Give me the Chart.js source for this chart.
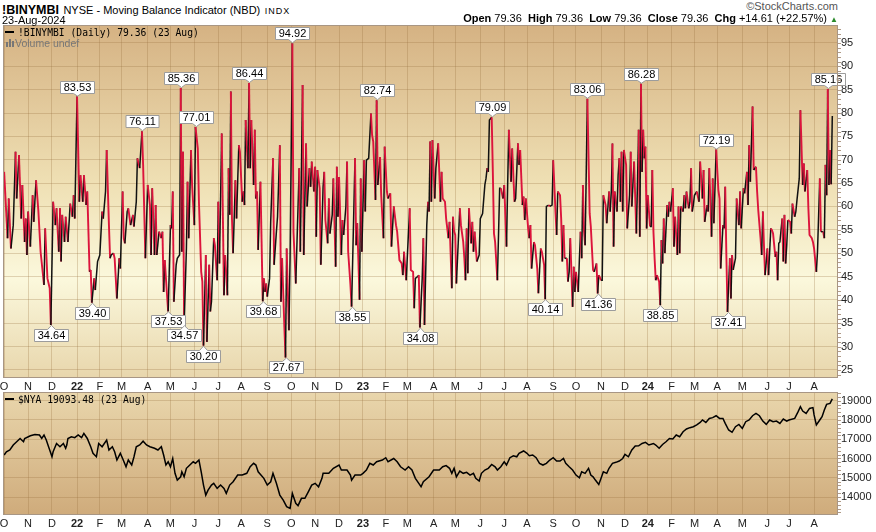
<!DOCTYPE html>
<html>
<head>
<meta charset="utf-8">
<script src="https://cdn.jsdelivr.net/npm/chart.js@4.4.1/dist/chart.umd.min.js"></script>
<style>
  body { margin: 0; width: 876px; height: 532px; background: #fff; position: relative; overflow: hidden;
         font-family: "Liberation Sans", Arial, sans-serif; color: #000; }
  .t { position: absolute; white-space: pre; line-height: 1; }
  .mono { font-family: "DejaVu Sans Mono", monospace; font-size: 9.7px; }
  canvas { position: absolute; left: 0; }
  .dash { display: inline-block; width: 9px; height: 2px; background: #000; vertical-align: middle; margin-right: 4px; position: relative; top: -1px; }
  .bar { display: inline-block; width: 2px; background: #777; margin-right: 1px; vertical-align: baseline; }
</style>
</head>
<body>
<canvas id="main" width="876" height="367" style="top:25px"></canvas>
<canvas id="nya" width="876" height="140" style="top:392px"></canvas>

<div class="t" style="left:2px;top:1px"><b style="font-size:12.5px">!BINYMBI</b> <span style="font-size:11px">NYSE - Moving Balance Indicator (NBD)</span> <span style="font-size:9px;letter-spacing:1px">INDX</span></div>
<div class="t" style="left:2px;top:15px;font-size:11px">23-Aug-2024</div>
<div class="t" style="right:38px;top:1px;font-size:11px;color:#555">&copy;StockCharts.com</div>
<div class="t" style="right:38px;top:13px;font-size:11px"><b>Open</b> 79.36  <b>High</b> 79.36  <b>Low</b> 79.36  <b>Close</b> 79.36  <b>Chg</b> +14.61 (+22.57%) <span style="color:#2a8a2a;font-size:8px">&#9650;</span></div>

<div class="t mono" style="left:5px;top:28px"><span class="dash"></span>!BINYMBI (Daily) 79.36 (23 Aug)</div>
<div class="t" style="left:6px;top:38px;font-size:10.5px;color:#777"><span class="bar" style="height:5px"></span><span class="bar" style="height:8px"></span><span class="bar" style="height:6px"></span>Volume undef</div>
<div class="t mono" style="left:5px;top:395px"><span class="dash"></span>$NYA 19093.48 (23 Aug)</div>

<script>
// trading-day index (0 = 1 Oct 2021) and Moving Balance Indicator readings
const mbiDays = [0,3,4,6,8,10,11,13,15,16,18,19,20,21,23,25,26,28,30,32,35,36,38,40,41,43,45,46,48,49,50,51,53,54,56,58,60,61,62,64,
  66,67,69,70,72,73,75,76,77,79,80,82,84,86,87,89,90,92,93,94,96,97,99,101,102,104,105,106,108,109,111,113,114,116,117,119,121,122,124,126,
  128,129,130,132,133,134,136,138,139,140,141,143,144,146,147,148,149,151,152,154,155,156,157,158,160,161,162,164,165,167,168,170,171,173,174,175,177,178,180,181,
  182,184,185,187,188,189,191,193,194,196,197,198,199,200,201,203,204,206,207,209,210,211,212,214,215,216,217,219,220,221,222,223,224,225,227,228,229,230,231,233,
  234,236,237,239,240,242,243,244,246,247,248,250,251,253,254,256,257,259,260,262,263,265,266,268,269,270,272,273,274,275,277,278,280,281,282,284,285,286,288,289,
  291,292,293,294,296,297,298,300,301,302,304,305,306,308,309,310,312,313,314,316,317,318,320,322,323,324,326,327,328,330,331,333,334,336,337,339,340,342,344,345,
  347,349,350,351,353,354,356,357,359,360,361,363,364,365,367,368,369,371,372,373,374,375,376,378,379,381,383,384,385,387,388,390,391,393,394,395,396,397,400,401,
  403,404,405,406,407,408,410,411,412,413,415,417,418,420,422,423,424,425,426,428,429,430,431,433,435,436,438,439,441,442,443,445,446,448,449,451,452,453,455,456,
  457,458,460,461,462,463,465,466,468,469,471,472,474,475,476,478,479,481,482,484,485,486,488,489,490,491,492,494,495,496,497,499,500,501,502,504,505,506,507,508,
  509,510,512,514,515,517,518,520,521,522,524,525,526,528,529,531,532,533,534,535,536,538,539,540,541,542,543,544,546,547,549,550,551,553,555,557,558,559,560,561,
  562,563,564,565,567,568,569,570,571,572,573,575,576,577,578,579,580,582,583,584,585,587,588,589,591,592,593,594,596,597,598,599,601,602,603,604,605,606,608,609,
  610,611,613,614,615,617,618,619,621,622,623,624,625,627,628,629,631,632,633,634,635,637,638,639,640,642,643,645,646,647,649,650,652,653,654,655,657,658,660,661,
  662,664,665,666,667,668,670,671,673,674,675,677,678,679,680,681,683,684,685,686,687,688,690,691,692,694,695,696,698,699,701,702,703,705,706,707,709,710,711,713,
  714,716,717,719,720,721,722,723,724,725,726,727];
const mbiValues = [67.4,53.2,61.7,51.0,56.0,71.7,61.7,71.0,57.4,64.6,52.4,57.4,49.6,58.9,51.4,62.4,56.7,65.6,59.2,50.3,43.2,55.3,44.6,42.5,34.64,61.0,56.0,59.6,50.3,59.6,48.2,58.2,52.4,57.8,52.4,60.6,57.8,62.4,57.4,83.53,
  61.0,66.7,61.0,66.7,60.3,63.2,46.0,46.4,39.40,44.6,42.1,48.2,49.6,58.9,57.4,63.2,72.1,56.0,48.9,49.6,50.0,48.9,40.3,48.9,46.7,63.2,53.2,52.1,58.9,59.6,56.0,58.2,55.7,61.0,70.3,68.2,76.11,68.9,48.9,64.6,
  60.3,49.6,63.9,49.6,60.3,49.6,54.6,53.2,54.6,41.7,48.5,41.0,37.53,56.0,55.3,63.2,39.6,47.5,48.9,49.6,85.36,50.3,71.7,34.57,51.0,65.3,53.2,72.1,64.6,56.0,77.01,72.4,61.0,46.0,43.9,30.20,49.6,31.0,47.5,37.5,
  39.6,53.2,51.7,44.2,61.0,47.8,75.6,41.0,49.6,41.0,68.2,58.2,84.6,57.4,50.0,65.6,57.4,73.1,71.7,61.0,63.2,60.3,78.5,68.2,86.44,68.2,78.5,64.6,76.4,61.7,63.2,50.7,58.5,65.3,39.68,44.6,41.7,43.5,40.7,44.6,
  56.7,70.3,47.5,54.6,57.8,73.1,39.6,48.9,34.2,27.67,51.0,33.5,48.9,94.92,54.6,43.5,51.7,68.2,50.3,86.0,49.6,73.5,60.0,68.2,64.2,69.6,63.2,68.5,53.5,67.8,63.9,47.5,64.2,67.4,57.1,52.1,61.7,54.2,58.2,66.0,
  47.1,68.5,57.8,66.3,49.6,57.1,53.9,60.0,69.6,50.3,43.2,38.55,48.9,70.3,51.7,56.4,40.0,66.0,50.3,69.9,58.9,69.9,70.3,79.9,75.3,73.9,61.4,82.74,64.6,70.6,62.4,53.2,72.8,63.2,61.7,62.8,51.4,60.0,56.0,54.6,
  48.5,47.8,45.3,50.3,44.2,49.6,59.6,46.4,46.0,38.2,44.6,45.0,45.3,34.08,44.6,53.2,34.6,56.0,61.0,58.9,73.9,61.0,74.2,61.7,68.2,73.5,61.0,67.4,61.7,61.0,57.4,53.2,56.7,42.5,57.8,54.6,53.9,43.5,59.6,56.0,
  52.4,48.9,44.2,55.3,45.7,59.6,52.1,56.7,50.3,54.6,48.2,49.6,57.4,58.5,64.6,66.0,68.2,67.4,78.5,79.09,67.4,54.2,52.4,44.2,63.9,63.9,61.7,64.6,51.4,64.6,76.4,65.3,72.4,61.0,61.7,73.5,68.9,72.1,60.3,62.1,
  57.1,61.7,55.3,53.2,56.0,46.7,52.4,51.7,46.7,41.4,51.0,50.3,47.5,40.14,60.0,60.3,60.0,60.3,69.9,58.9,53.9,63.2,62.4,57.4,48.2,56.0,48.9,48.9,43.9,46.0,53.2,38.5,47.1,41.7,46.0,41.7,48.9,54.6,48.9,64.6,
  54.9,51.7,83.06,58.5,55.7,46.4,46.0,47.8,41.36,45.3,44.2,44.2,62.4,60.3,56.4,63.2,58.9,63.2,73.5,51.4,63.2,58.9,66.7,70.3,61.0,71.7,58.9,72.1,68.9,55.3,62.4,71.7,60.0,69.6,54.2,76.4,53.5,86.28,67.4,76.4,
  70.3,72.8,55.3,62.4,55.7,55.7,67.8,54.6,48.9,44.2,45.3,43.9,38.85,52.8,47.8,57.4,50.0,60.3,57.8,61.0,58.9,63.9,51.4,57.8,49.6,60.0,50.0,60.0,58.9,62.4,59.6,63.2,59.6,61.0,68.2,58.9,60.3,62.4,63.2,62.1,
  61.0,69.6,61.7,67.8,56.7,60.3,58.9,68.2,53.5,66.0,56.4,63.9,72.19,63.5,61.7,46.7,56.0,55.3,64.2,49.6,37.41,48.9,40.3,49.6,46.4,48.9,61.7,56.0,63.2,55.3,63.9,62.8,67.4,60.3,73.1,65.3,81.4,67.8,68.5,63.2,
  59.2,53.2,49.6,58.9,51.7,45.3,51.0,45.3,55.3,54.9,54.2,49.2,50.3,44.2,52.1,52.4,57.4,48.2,58.2,47.8,51.7,57.1,56.7,54.2,60.6,57.8,58.9,61.4,66.0,80.6,64.6,69.2,63.2,67.8,59.6,53.9,53.2,52.4,51.0,46.0,
  50.3,66.0,54.6,54.6,53.2,68.9,62.4,85.16,64.6,72.1,64.75,79.36];

// NYSE Composite ($NYA) closes on the same day index
const nyaDays = [0,2,5,8,11,14,17,18,23,27,31,33,35,37,39,40,42,43,46,49,52,54,55,56,59,62,65,68,70,73,76,78,81,83,86,90,92,95,97,99,
  102,104,107,109,112,114,116,119,122,125,128,132,135,138,140,142,144,146,148,150,152,155,156,158,160,163,166,168,171,173,175,177,179,182,184,187,190,193,195,198,
  201,205,209,213,216,219,221,223,228,231,234,236,239,242,245,248,251,253,256,258,261,264,267,270,273,276,279,280,285,289,294,296,301,304,305,308,313,315,318,321,
  324,327,332,335,337,342,345,348,352,355,358,361,364,366,368,373,377,382,385,388,391,393,395,397,400,403,406,409,412,414,417,419,422,425,428,431,433,436,439,441,
  444,447,450,452,456,459,461,464,467,470,473,476,479,482,485,488,491,493,496,499,502,505,507,510,513,515,517,519,522,524,526,529,531,534,537,540,543,545,548,551,
  554,557,560,563,566,570,572,575,578,581,584,587,590,593,596,599,602,605,608,611,613,616,619,622,625,628,631,633,636,639,642,645,648,651,654,657,660,663,666,669,
  672,675,678,681,684,687,689,694,697,699,701,704,707,710,711,713,716,718,720,722,725,727];
const nyaValues = [16180,16350,16440,16700,16870,17040,16870,17040,17180,17250,17220,17040,17220,16960,16610,16440,16090,16350,16780,16610,16780,16530,16700,17040,17130,17080,17220,17080,17300,17040,16610,16270,16090,16780,16610,16960,16440,16610,16350,15920,
  16270,16000,15570,15920,15660,16090,16610,16700,16900,16700,16610,16530,16440,16610,16180,15660,15830,15570,16000,15230,14880,15050,15310,15050,15490,15660,15830,15750,15920,15310,14620,14100,14360,14620,14710,14450,14620,14450,14190,14620,
  14790,15140,15140,15230,15570,15750,15660,15310,14970,14620,14790,15230,14710,14100,13840,13500,13410,14190,13670,13550,13930,13930,14270,14620,14710,14530,14970,15230,15230,15490,15660,15400,15400,15140,14880,15140,15140,15230,15400,15750,
  15660,15830,15920,16040,15830,16000,15830,15570,15400,15570,15400,14970,14710,14530,14790,15050,15400,15400,15570,15630,15490,15230,15490,15050,15350,15230,15280,15140,15230,14970,14830,15230,15400,15490,15690,15570,15400,15570,15830,15660,
  16040,16140,16090,16270,16390,16270,16140,16180,16040,15750,15660,15750,15920,16040,15870,15870,16000,15750,15570,15400,15140,15000,15310,15230,15490,15140,15050,14880,14650,14970,15310,15230,15490,15750,15800,15870,16000,16210,16090,16440,
  16650,16660,16780,16840,16700,16780,16700,16530,16730,16870,17040,17010,17220,17130,17390,17530,17600,17650,17740,17870,18000,17870,18080,18120,18220,18080,18080,17820,17480,17360,17650,17770,17560,17910,18000,18220,18340,18220,17940,17770,
  18000,17910,17940,17820,18050,17940,18000,18080,18430,18690,18460,18340,18600,18640,18260,17740,18000,18170,18520,18810,18860,19093.48];

// month starts (trading-day index) and their axis labels
const monthStarts = [0,21,42,64,84,103,126,146,167,188,208,231,252,273,294,315,335,354,377,396,418,439,459,482,502,524,545,565,586,606,626,648,670,689,711];
const monthLabels = ['O','N','D','22','F','M','A','M','J','J','A','S','O','N','D','23','F','M','A','M','J','J','A','S','O','N','D','24','F','M','A','M','J','J','A'];

const mbiTicks = [25,30,35,40,45,50,55,60,65,70,75,80,85,90,95];
const nyaTicks = [14000,15000,16000,17000,18000,19000];

// values that carry a price label on the chart
const peakMarks = [83.53,76.11,85.36,77.01,86.44,94.92,82.74,79.09,83.06,86.28,72.19,85.16];
const troughMarks = [34.64,39.40,37.53,34.57,30.20,39.68,27.67,38.55,34.08,40.14,41.36,38.85,37.41];

const FONT = '"Liberation Sans", Arial, sans-serif';
const RED = '#dc143c';
const GRID = 'rgba(150,110,60,0.28)';

function panel(stops, minorStep) {
  return {
    id: 'panel',
    beforeDraw(chart) {
      const {ctx, chartArea: a} = chart;
      const g = ctx.createLinearGradient(0, a.top, 0, a.bottom);
      stops.forEach(s => g.addColorStop(s[0], s[1]));
      ctx.save();
      ctx.fillStyle = g;
      ctx.fillRect(a.left, a.top, a.right - a.left, a.bottom - a.top);
      ctx.restore();
    },
    afterDraw(chart) {
      const {ctx, chartArea: a} = chart;
      const ys = chart.scales.y;
      ctx.save();
      ctx.strokeStyle = '#a89684';
      ctx.lineWidth = 1;
      ctx.strokeRect(Math.round(a.left) + 0.5, Math.round(a.top) + 0.5, Math.round(a.right - a.left) - 1, Math.round(a.bottom - a.top) - 1);
      ctx.strokeStyle = '#b09a86';
      ctx.beginPath();
      for (let v = Math.ceil(ys.min / minorStep) * minorStep; v <= ys.max; v += minorStep) {
        const y = Math.round(ys.getPixelForValue(v)) + 0.5;
        ctx.moveTo(a.right, y);
        ctx.lineTo(a.right + 3, y);
      }
      ctx.stroke();
      ctx.restore();
    }
  };
}

const markLabels = {
  id: 'markLabels',
  afterDatasetsDraw(chart) {
    const ctx = chart.ctx;
    const meta = chart.getDatasetMeta(0);
    const data = chart.data.datasets[0].data;
    ctx.save();
    ctx.font = '11px ' + FONT;
    ctx.textAlign = 'center';
    ctx.textBaseline = 'middle';
    ctx.lineWidth = 1;
    data.forEach((p, i) => {
      const up = peakMarks.includes(p.y);
      const down = troughMarks.includes(p.y);
      if (!up && !down) return;
      const x = Math.round(meta.data[i].x) + 0.5;
      const y = meta.data[i].y;
      const txt = p.y.toFixed(2);
      const w = Math.round(ctx.measureText(txt).width) + 6;
      const h = 12;
      const by = Math.round(up ? y - 4 - h : y + 4) + 0.5;
      ctx.beginPath();
      if (up) {
        ctx.moveTo(x - w / 2, by); ctx.lineTo(x + w / 2, by); ctx.lineTo(x + w / 2, by + h);
        ctx.lineTo(x + 4, by + h); ctx.lineTo(x, y - 0.5); ctx.lineTo(x - 4, by + h); ctx.lineTo(x - w / 2, by + h);
      } else {
        ctx.moveTo(x - w / 2, by + h); ctx.lineTo(x + w / 2, by + h); ctx.lineTo(x + w / 2, by);
        ctx.lineTo(x + 4, by); ctx.lineTo(x, y + 0.5); ctx.lineTo(x - 4, by); ctx.lineTo(x - w / 2, by);
      }
      ctx.closePath();
      ctx.fillStyle = '#fff';
      ctx.fill();
      ctx.strokeStyle = '#9c9c9c';
      ctx.stroke();
      ctx.fillStyle = '#000';
      ctx.fillText(txt, x, by + h / 2 + 0.5);
    });
    ctx.restore();
  }
};

function xAxis(height) {
  return {
    type: 'linear', min: -1, max: 732,
    afterBuildTicks: s => { s.ticks = monthStarts.map(v => ({value: v})); },
    afterFit: s => { s.height = height; s.paddingLeft = 0; s.paddingRight = 0; },
    grid: {color: GRID, drawTicks: false},
    border: {display: false},
    ticks: {
      autoSkip: false, maxRotation: 0, padding: 2, color: '#222',
      font: c => ({family: FONT, size: 11, weight: monthLabels[c.index] && monthLabels[c.index].length > 1 ? 'bold' : 'normal'}),
      callback: (v, i) => monthLabels[i]
    }
  };
}

function yAxis(min, max, ticks) {
  return {
    position: 'right', min: min, max: max,
    afterBuildTicks: s => { s.ticks = ticks.map(v => ({value: v})); },
    afterFit: s => { s.width = 38; s.paddingTop = 0; s.paddingBottom = 0; },
    grid: {color: GRID, drawTicks: false},
    border: {display: false},
    ticks: {padding: 3, color: '#222', font: {family: FONT, size: 11}, callback: v => String(v)}
  };
}

const common = {
  responsive: false, animation: false, devicePixelRatio: 1,
  layout: {padding: {left: 3, right: 0, top: 0, bottom: 0}},
  plugins: {legend: {display: false}, tooltip: {enabled: false}},
  elements: {point: {radius: 0}, line: {tension: 0}}
};

const falling = c => c.p1.parsed.y < c.p0.parsed.y;

new Chart(document.getElementById('main'), {
  type: 'line',
  data: {
    datasets: [{
      data: mbiDays.map((d, i) => ({x: d, y: mbiValues[i]})),
      borderColor: RED,
      borderWidth: 1.7,
      segment: {
        borderColor: c => falling(c) ? RED : '#111',
        borderWidth: c => falling(c) ? 1.9 : 1.5
      }
    }]
  },
  options: Object.assign({}, common, {
    scales: {x: xAxis(14), y: yAxis(23.27, 98.85, mbiTicks)}
  }),
  plugins: [panel([[0, '#d5b283'], [0.45, '#efe0b4'], [0.72, '#fbf8dc'], [1, '#e8d6ac']], 1), markLabels]
});

new Chart(document.getElementById('nya'), {
  type: 'line',
  data: {
    datasets: [{
      data: nyaDays.map((d, i) => ({x: d, y: nyaValues[i]})),
      borderColor: '#000',
      borderWidth: 1.5
    }]
  },
  options: Object.assign({}, common, {
    scales: {x: xAxis(17), y: yAxis(13066, 19452, nyaTicks)}
  }),
  plugins: [panel([[0, '#e9d6ac'], [1, '#cfab7b']], 200)]
});
</script>
</body>
</html>
